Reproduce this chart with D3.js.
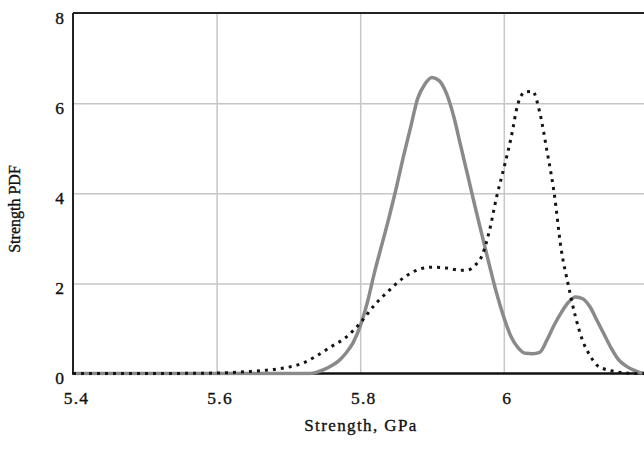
<!DOCTYPE html>
<html>
<head>
<meta charset="utf-8">
<script src="https://cdn.jsdelivr.net/npm/d3@7"></script>
<style>
  html, body { margin: 0; padding: 0; background: #fff; }
  svg { display: block; }
  text { font-family: "Liberation Serif", "Times New Roman", serif; fill: #111; stroke: #111; stroke-width: 0.35px; }
</style>
</head>
<body>
<svg id="chart" width="644" height="450"></svg>
<script>
// Strength distributions (probability density vs. strength, GPa)
const solidStrength = [5.40, 5.73, 5.74, 5.75, 5.76, 5.77, 5.78, 5.79, 5.80, 5.81, 5.82, 5.83, 5.84, 5.85,
  5.86, 5.87, 5.88, 5.89, 5.90, 5.91, 5.92, 5.93, 5.94, 5.95, 5.96, 5.97, 5.98, 5.99, 6.00, 6.01,
  6.02, 6.03, 6.04, 6.05, 6.06, 6.07, 6.08, 6.09, 6.10, 6.11, 6.12, 6.13, 6.14, 6.15, 6.16, 6.17,
  6.18, 6.19, 6.20];
const solidPdf = [0, 0, 0.03, 0.09, 0.17, 0.28, 0.45, 0.68, 1.05, 1.58, 2.25, 2.85, 3.45, 4.10,
  4.80, 5.45, 6.10, 6.42, 6.57, 6.50, 6.22, 5.72, 5.05, 4.38, 3.70, 3.05, 2.40, 1.78, 1.25, 0.82,
  0.57, 0.45, 0.44, 0.47, 0.74, 1.07, 1.35, 1.58, 1.70, 1.66, 1.48, 1.17, 0.86, 0.55, 0.30, 0.17,
  0.08, 0.02, 0];

const dottedStrength = [5.40, 5.50, 5.60, 5.62, 5.64, 5.66, 5.68, 5.70, 5.72, 5.74, 5.76, 5.78, 5.80,
  5.82, 5.84, 5.86, 5.88, 5.90, 5.92, 5.94, 5.95, 5.96, 5.97, 5.98, 5.99, 6.00, 6.01, 6.02, 6.03,
  6.04, 6.05, 6.06, 6.07, 6.08, 6.09, 6.10, 6.11, 6.12, 6.13, 6.14, 6.15, 6.16, 6.17, 6.18, 6.20];
const dottedPdf = [0, 0, 0.01, 0.02, 0.04, 0.06, 0.09, 0.14, 0.23, 0.40, 0.60, 0.80, 1.12,
  1.52, 1.84, 2.12, 2.30, 2.36, 2.34, 2.29, 2.30, 2.40, 2.63, 3.17, 3.92, 4.55, 5.22, 6.00, 6.25,
  6.26, 5.80, 4.95, 4.02, 2.75, 1.95, 1.25, 0.72, 0.40, 0.18, 0.10, 0.06, 0.03, 0.01, 0, 0];

const xTicks = [5.4, 5.6, 5.8, 6.0];
const xTickLabels = ["5.4", "5.6", "5.8", "6"];
const yTicks = [0, 2, 4, 6, 8];
const yTickLabels = ["0", "2", "4", "6", "8"];

const svg = d3.select("#chart");
const plotLeft = 73, plotTop = 13, plotBottom = 373.5;

const x = d3.scaleLinear().domain([5.4, 6.2]).range([plotLeft, plotLeft + 0.8 * 718]);
const y = d3.scaleLinear().domain([0, 8]).range([plotBottom, plotTop]);
const plotRight = x(6.2);

svg.append("defs").append("clipPath").attr("id", "plot")
  .append("rect").attr("x", plotLeft).attr("y", plotTop - 2)
  .attr("width", plotRight - plotLeft).attr("height", plotBottom - plotTop + 4);

// grid lines
const grid = svg.append("g");
grid.append("g").attr("transform", `translate(0,${plotBottom})`)
  .call(d3.axisBottom(x).tickValues(xTicks.slice(1)).tickSize(-(plotBottom - plotTop)).tickFormat(""))
  .call(g => g.select(".domain").remove())
  .call(g => g.selectAll("line").attr("stroke", "#c6c6c6").attr("stroke-width", 1.5));
grid.append("g").attr("transform", `translate(${plotLeft},0)`)
  .call(d3.axisLeft(y).tickValues(yTicks.slice(1, -1)).tickSize(-(plotRight - plotLeft)).tickFormat(""))
  .call(g => g.select(".domain").remove())
  .call(g => g.selectAll("line").attr("stroke", "#c6c6c6").attr("stroke-width", 1.5));

// frame
svg.append("line").attr("x1", plotLeft).attr("x2", plotRight).attr("y1", plotTop).attr("y2", plotTop)
  .attr("stroke", "#222").attr("stroke-width", 2);
svg.append("line").attr("x1", plotLeft).attr("x2", plotLeft).attr("y1", plotTop).attr("y2", plotBottom)
  .attr("stroke", "#222").attr("stroke-width", 2);
svg.append("line").attr("x1", plotLeft - 1).attr("x2", plotRight).attr("y1", plotBottom).attr("y2", plotBottom)
  .attr("stroke", "#111").attr("stroke-width", 2.5);

// curves
const plot = svg.append("g").attr("clip-path", "url(#plot)");
const line = d3.line().x(d => x(d[0])).y(d => y(d[1])).curve(d3.curveMonotoneX);

plot.append("path")
  .datum(d3.zip(solidStrength, solidPdf))
  .attr("fill", "none").attr("stroke", "#8a8a8a").attr("stroke-width", 3.5)
  .attr("stroke-linejoin", "round")
  .attr("d", line);

plot.append("path")
  .datum(d3.zip(dottedStrength, dottedPdf))
  .attr("fill", "none").attr("stroke", "#151515").attr("stroke-width", 3)
  .attr("stroke-dasharray", "3 5")
  .attr("d", line);

// tick labels
const xAxis = svg.append("g").attr("transform", `translate(0,${plotBottom})`)
  .call(d3.axisBottom(x).tickValues(xTicks).tickSize(0).tickPadding(0)
    .tickFormat((d, i) => xTickLabels[i]));
xAxis.select(".domain").remove();
xAxis.selectAll("text")
  .attr("dx", 3).attr("y", 30).attr("dy", 0)
  .style("font-size", "17.5px").style("letter-spacing", "1.2px")
  .style("font-family", "'Liberation Serif', serif").attr("fill", "#111");

const yAxis = svg.append("g").attr("transform", `translate(${plotLeft - 9},0)`)
  .call(d3.axisLeft(y).tickValues(yTicks).tickSize(0).tickPadding(0)
    .tickFormat((d, i) => yTickLabels[i]));
yAxis.select(".domain").remove();
yAxis.selectAll("text")
  .attr("dy", 10).attr("x", 0)
  .style("font-size", "17.5px")
  .style("font-family", "'Liberation Serif', serif").attr("fill", "#111");

// axis titles
svg.append("text")
  .attr("x", 361).attr("y", 431).attr("text-anchor", "middle")
  .style("font-size", "17px").style("letter-spacing", "1.4px")
  .text("Strength, GPa");

svg.append("text")
  .attr("transform", "translate(20,209) rotate(-90)").attr("text-anchor", "middle")
  .style("font-size", "16px")
  .text("Strength PDF");
</script>
</body>
</html>
